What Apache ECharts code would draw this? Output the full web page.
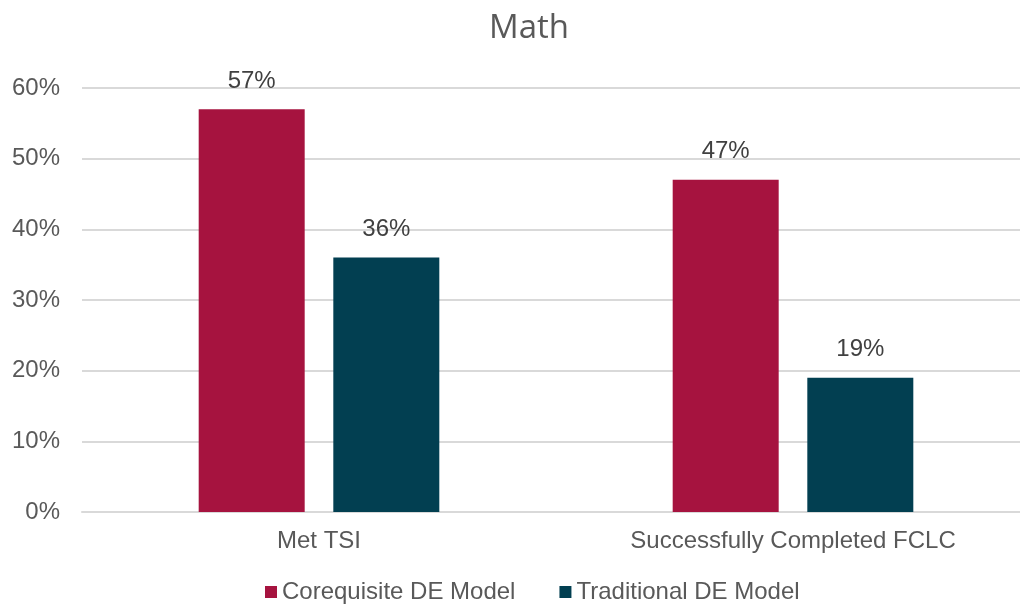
<!DOCTYPE html>
<html>
<head>
<meta charset="utf-8">
<script src="https://cdn.jsdelivr.net/npm/echarts@6/dist/echarts.min.js"></script>
<style>
  html, body { margin: 0; padding: 0; background: #fff; overflow: hidden; }
  /* plot area runs past the right edge in the original, so the canvas is a bit wider than the window */
  #chart { width: 1030px; height: 604px; }
</style>
</head>
<body>
<div id="chart"></div>
<script>
// chart data
const categories = ['Met TSI', 'Successfully Completed FCLC']
const seriesNames = ['Corequisite DE Model', 'Traditional DE Model']
const corequisite = [57, 47]
const traditional = [36, 19]
const seriesColors = ['#A6133F', '#023F51']

const chart = echarts.init(document.getElementById('chart'))
const labelFont = 'Liberation Sans, Arial, sans-serif'

function barSeries(i, data) {
  return {
    name: seriesNames[i],
    type: 'bar',
    data: data,
    barWidth: 106,
    barGap: '27%',
    itemStyle: { color: seriesColors[i] },
    label: {
      show: true, position: 'top', distance: 16,
      fontFamily: labelFont, fontSize: 24, color: '#404040',
      formatter: p => p.value + '%',
    },
  }
}

chart.setOption({
  animation: false,
  title: {
    text: 'Math',
    left: 484,
    top: 7,
    textStyle: { fontFamily: 'Open Sans, sans-serif', fontSize: 33, fontWeight: 'normal', color: '#595959' },
  },
  legend: {
    bottom: -5,
    left: 260,
    itemWidth: 12,
    itemHeight: 12,
    itemGap: 44,
    icon: 'rect',
    textStyle: { fontFamily: labelFont, fontSize: 24, color: '#595959' },
    data: seriesNames,
  },
  grid: { left: 82, top: 88, right: 0, bottom: 92 },
  xAxis: {
    type: 'category',
    data: categories,
    axisLine: { show: true, lineStyle: { color: '#D9D9D9', width: 2 } },
    axisTick: { show: false },
    axisLabel: { fontFamily: labelFont, fontSize: 24, color: '#595959', margin: 17 },
  },
  yAxis: {
    type: 'value',
    min: 0,
    max: 60,
    interval: 10,
    axisLine: { show: false },
    axisTick: { show: false },
    splitLine: { lineStyle: { color: '#D9D9D9', width: 2 } },
    axisLabel: {
      fontFamily: labelFont, fontSize: 24, color: '#595959', margin: 22,
      formatter: v => v + '%',
    },
  },
  series: [barSeries(0, corequisite), barSeries(1, traditional)],
})
</script>
</body>
</html>
